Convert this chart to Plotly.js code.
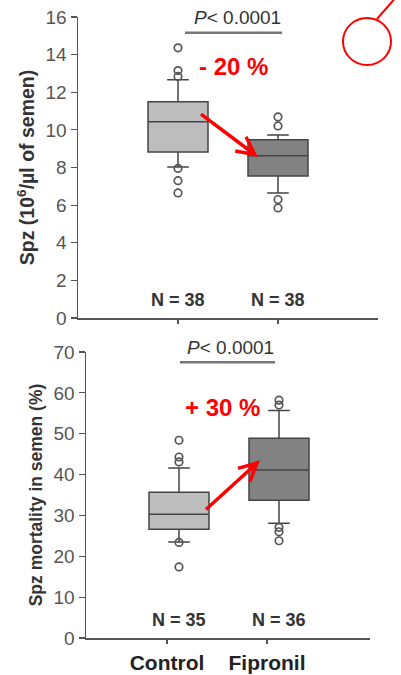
<!DOCTYPE html>
<html><head><meta charset="utf-8">
<script src="https://cdn.plot.ly/plotly-3.0.1.min.js"></script>
<style>html,body{margin:0;padding:0;background:#fff}#chart{width:401px;height:675px}</style>
</head><body><div id="chart"></div>
<script>
// ---- data ----
const categories = ['Control', 'Fipronil'];
const nCountTop = [38, 38];
const nCountBottom = [35, 36];

// Spz concentration (10^6/µl of semen)
const spzQ1 = [8.83, 7.55];
const spzMedian = [10.43, 8.62];
const spzQ3 = [11.49, 9.47];
const spzLowerWhisker = [8.03, 6.65];
const spzUpperWhisker = [12.66, 9.73];
const spzOutliersControl = [14.36, 13.15, 12.84, 7.95, 7.3, 6.65];
const spzOutliersFipronil = [10.69, 10.21, 6.3, 5.85];

// Spz mortality in semen (%)
const mortQ1 = [26.6, 33.7];
const mortMedian = [30.3, 41.1];
const mortQ3 = [35.7, 48.9];
const mortLowerWhisker = [23.5, 28.1];
const mortUpperWhisker = [41.6, 55.7];
const mortOutliersControl = [48.4, 44.3, 43.1, 23.4, 17.4];
const mortOutliersFipronil = [58.2, 57.0, 27.1, 26.0, 23.8];

const pText = '<i>P</i>< 0.0001';
const changeTop = '- 20 %';
const changeBottom = '+ 30 %';

// ---- style ----
const W = 401, H = 675;
const px = x => x / W;
const py = y => 1 - y / H;
const fills = ['#bdbdbd', '#828282'];
const lineC = '#444';
const font = 'Liberation Sans, Arial, sans-serif';
const bottomShift = 0.12;

const traces = [];
function addBoxes(q1, med, q3, lo, hi, outs, xa, ya, shift) {
  categories.forEach((c, i) => {
    traces.push({
      type: 'box', x: [i + shift], q1: [q1[i]], median: [med[i]], q3: [q3[i]],
      lowerfence: [lo[i]], upperfence: [hi[i]], width: 0.6,
      fillcolor: fills[i], line: { color: lineC, width: 1.5 }, whiskerwidth: 0.36,
      boxpoints: false, xaxis: xa, yaxis: ya, hoverinfo: 'skip', showlegend: false
    });
    traces.push({
      type: 'scatter', mode: 'markers', x: outs[i].map(() => i + shift), y: outs[i],
      marker: { symbol: 'circle-open', size: 7.5, color: '#555', line: { width: 1.7, color: '#555' } },
      xaxis: xa, yaxis: ya, hoverinfo: 'skip', showlegend: false
    });
  });
}
addBoxes(spzQ1, spzMedian, spzQ3, spzLowerWhisker, spzUpperWhisker,
  [spzOutliersControl, spzOutliersFipronil], 'x', 'y', 0);
addBoxes(mortQ1, mortMedian, mortQ3, mortLowerWhisker, mortUpperWhisker,
  [mortOutliersControl, mortOutliersFipronil], 'x2', 'y2', bottomShift);

const axCommon = {
  showline: true, linecolor: '#555', linewidth: 1.5, showgrid: false, zeroline: false,
  ticks: 'outside', tickcolor: '#555', tickwidth: 1.2, fixedrange: true
};

const annotations = [];
const nTextStyle = { size: 18, family: font, color: '#333', weight: 'bold' };
categories.forEach((c, i) => {
  annotations.push({ xref: 'x', yref: 'y', x: i, y: 0.95, text: 'N = ' + nCountTop[i],
    showarrow: false, font: nTextStyle, yanchor: 'middle' });
  annotations.push({ xref: 'x2', yref: 'y2', x: i + bottomShift, y: 4.4, text: 'N = ' + nCountBottom[i],
    showarrow: false, font: nTextStyle, yanchor: 'middle' });
});
annotations.push({ xref: 'paper', yref: 'paper', x: px(237), y: py(17), text: pText, showarrow: false,
  font: { size: 19, family: font, color: '#333' }, yanchor: 'middle' });
annotations.push({ xref: 'paper', yref: 'paper', x: px(230), y: py(347), text: pText, showarrow: false,
  font: { size: 19, family: font, color: '#333' }, yanchor: 'middle' });
annotations.push({ xref: 'x', yref: 'y', x: 0.55, y: 13.35, text: '<b>' + changeTop + '</b>', showarrow: false,
  font: { size: 24, family: font, color: '#ff0000' }, yanchor: 'middle' });
annotations.push({ xref: 'x2', yref: 'y2', x: 0.55, y: 56.5, text: '<b>' + changeBottom + '</b>', showarrow: false,
  font: { size: 24, family: font, color: '#ff0000' }, yanchor: 'middle' });
// arrows
annotations.push({ xref: 'x', yref: 'y', axref: 'x', ayref: 'y', x: 0.8, y: 8.56, ax: 0.2, ay: 10.96,
  text: ' ', showarrow: true, arrowhead: 5, arrowsize: 1, arrowwidth: 3.5, arrowcolor: '#ff0000' });
annotations.push({ xref: 'x2', yref: 'y2', axref: 'x2', ayref: 'y2', x: 0.93, y: 43.5, ax: 0.36, ay: 30.8,
  text: ' ', showarrow: true, arrowhead: 5, arrowsize: 1, arrowwidth: 3.5, arrowcolor: '#ff0000' });

const shapes = [
  { type: 'line', xref: 'x', yref: 'y', x0: 0.07, x1: 1.04, y0: 15.16, y1: 15.16, line: { color: '#777', width: 2.5 } },
  { type: 'line', xref: 'x2', yref: 'y2', x0: 0.13, x1: 1.08, y0: 67.5, y1: 67.5, line: { color: '#777', width: 2.5 } },
  { type: 'circle', xref: 'paper', yref: 'paper', x0: px(343), x1: px(391), y0: py(65), y1: py(18),
    line: { color: '#ff0000', width: 2 } },
  { type: 'line', xref: 'paper', yref: 'paper', x0: px(377), y0: py(19), x1: px(397), y1: py(-4),
    line: { color: '#ff0000', width: 2 } }
];

const layout = {
  width: W, height: H, margin: { l: 0, r: 0, t: 0, b: 0 },
  paper_bgcolor: '#fff', plot_bgcolor: 'rgba(0,0,0,0)', showlegend: false,
  font: { family: font, color: '#555' },
  xaxis: Object.assign({}, axCommon, {
    domain: [px(78), px(378)], range: [-1, 2], tickvals: [0, 1], showticklabels: false,
    ticklen: 4, anchor: 'y'
  }),
  yaxis: Object.assign({}, axCommon, {
    domain: [py(318), py(17)], range: [0, 16], dtick: 2, ticklen: 6, anchor: 'x',
    tickfont: { size: 19, family: font, color: '#555' },
    title: { text: '<b>Spz (10<sup>6</sup>/µl of semen)</b>', font: { size: 19.5, family: font, color: '#333' }, standoff: 5 }
  }),
  xaxis2: Object.assign({}, axCommon, {
    domain: [px(86), px(370)], range: [-0.81, 2.03], tickvals: [0, 1], ticktext: categories,
    ticklen: 4, anchor: 'y2', ticklabelstandoff: 1,
    tickfont: { size: 21, family: font, color: '#222', weight: 'bold' }
  }),
  yaxis2: Object.assign({}, axCommon, {
    domain: [py(638), py(352)], range: [0, 70], dtick: 10, ticklen: 6, anchor: 'x2',
    tickfont: { size: 19, family: font, color: '#555' },
    title: { text: 'Spz mortality in semen (%)', font: { size: 17.5, family: font, color: '#333', weight: 'bold' }, standoff: 6 }
  }),
  annotations: annotations,
  shapes: shapes
};

Plotly.newPlot('chart', traces, layout, { displayModeBar: false, staticPlot: true });
</script>
</body></html>
